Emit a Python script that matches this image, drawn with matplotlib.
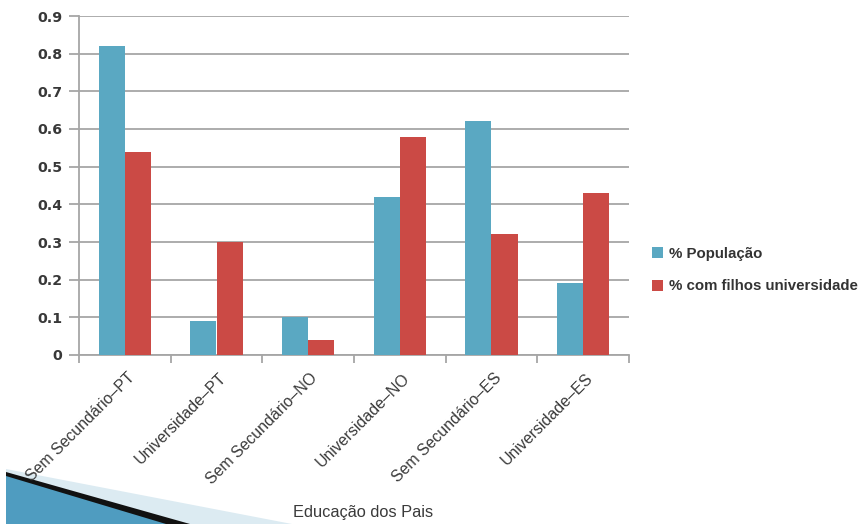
import matplotlib
matplotlib.use("Agg")
import matplotlib.pyplot as plt
import matplotlib.transforms as mtransforms
import numpy as np
from matplotlib.patches import Polygon

categories = ["Sem Secundário–PT", "Universidade–PT", "Sem Secundário–NO",
              "Universidade–NO", "Sem Secundário–ES", "Universidade–ES"]
populacao = [0.82, 0.09, 0.10, 0.42, 0.62, 0.19]
filhos_univ = [0.54, 0.30, 0.04, 0.58, 0.32, 0.43]
series_names = ["% População", "% com filhos universidade"]
y_ticks = [0, 0.1, 0.2, 0.3, 0.4, 0.5, 0.6, 0.7, 0.8, 0.9]
y_ticklabels = ["0", "0.1", "0.2", "0.3", "0.4", "0.5", "0.6", "0.7", "0.8", "0.9"]
x_label = "Educação dos Pais"

plt.rcParams['font.family'] = ['Liberation Sans', 'DejaVu Sans']

W, H = 868, 524
fig = plt.figure(figsize=(W / 100, H / 100), dpi=100)
ax = fig.add_axes([79 / W, 1 - 355 / H, 550 / W, 339 / H])

blue = "#5AA8C2"
red = "#CB4A45"
grid_c = "#A6A6A6"

x = np.arange(len(categories))
bw = 0.284
ax.bar(x - bw / 2, populacao, width=bw, color=blue, zorder=3, label=series_names[0])
ax.bar(x + bw / 2, filhos_univ, width=bw, color=red, zorder=3, label=series_names[1])

ax.set_xlim(-0.5, len(categories) - 0.5)
ax.set_ylim(0, 0.9)
ax.set_yticks(y_ticks)
ax.set_yticklabels(y_ticklabels, fontsize=10.2, fontweight="bold", color="#383838",
                   family="DejaVu Sans")
ax.yaxis.grid(True, color=grid_c, linewidth=1.3, zorder=0)
ax.tick_params(axis="y", length=7, width=1.3, color=grid_c, pad=5)

ax.set_xticks(x)
ax.set_xticklabels(categories, rotation=45, ha="right", rotation_mode="anchor",
                   fontsize=11.4, color="#3a3a3a")
ax.tick_params(axis="x", length=0, pad=11)
offset = mtransforms.ScaledTranslation(2 / 100, 0, fig.dpi_scale_trans)
for lab in ax.get_xticklabels():
    lab.set_transform(lab.get_transform() + offset)
ax.set_xticks(np.arange(-0.5, len(categories), 1.0), minor=True)
ax.tick_params(axis="x", which="minor", length=6, width=1.3, color=grid_c)

for s in ["top", "right"]:
    ax.spines[s].set_visible(False)
for s in ["left", "bottom"]:
    ax.spines[s].set_color(grid_c)
    ax.spines[s].set_linewidth(1.3)

fig.text(363 / W, 1 - 512 / H, x_label, ha="center", va="center",
         fontsize=11.8, color="#3a3a3a")

handles, labels = ax.get_legend_handles_labels()
leg = fig.legend(handles, labels, loc="center left",
                 bbox_to_anchor=(638 / W, 1 - 270 / H), frameon=False,
                 prop={"weight": "bold", "size": 10.8}, handlelength=0.75,
                 handleheight=0.75, handletextpad=0.4, labelspacing=1.25)
for t in leg.get_texts():
    t.set_color("#333333")

# decorative slide wedge at bottom-left
def fc(pts):
    return [(px / W, 1 - py / H) for px, py in pts]

fig.add_artist(Polygon(fc([(6, 469), (292, 524), (6, 524)]), closed=True,
                       transform=fig.transFigure, facecolor="#DCEBF2",
                       edgecolor="none", zorder=0))
fig.add_artist(Polygon(fc([(6, 472), (190, 524), (6, 524)]), closed=True,
                       transform=fig.transFigure, facecolor="#111111",
                       edgecolor="none", zorder=0))
fig.add_artist(Polygon(fc([(6, 476), (166, 524), (6, 524)]), closed=True,
                       transform=fig.transFigure, facecolor="#4F9CC0",
                       edgecolor="none", zorder=0))

fig.savefig("out.png", dpi=100)
